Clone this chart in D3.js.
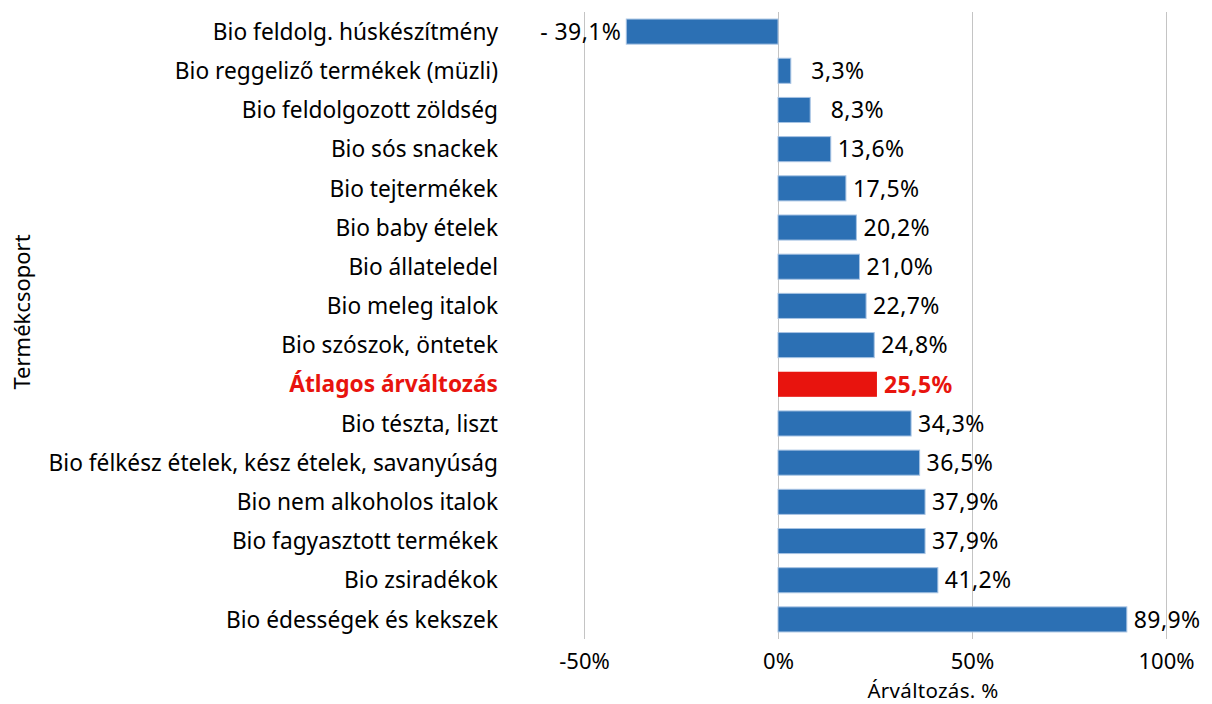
<!DOCTYPE html>
<html>
<head>
<meta charset="utf-8">
<script src="https://cdn.jsdelivr.net/npm/d3@7"></script>
<style>
  html, body { margin: 0; padding: 0; background: #ffffff; }
  svg { display: block; }
</style>
</head>
<body>
<svg id="chart" width="1212" height="704"></svg>
<script>
const categories = [
  "Bio feldolg. húskészítmény",
  "Bio reggeliző termékek (müzli)",
  "Bio feldolgozott zöldség",
  "Bio sós snackek",
  "Bio tejtermékek",
  "Bio baby ételek",
  "Bio állateledel",
  "Bio meleg italok",
  "Bio szószok, öntetek",
  "Átlagos árváltozás",
  "Bio tészta, liszt",
  "Bio félkész ételek, kész ételek, savanyúság",
  "Bio nem alkoholos italok",
  "Bio fagyasztott termékek",
  "Bio zsiradékok",
  "Bio édességek és kekszek"
];
const values = [-39.1, 3.3, 8.3, 13.6, 17.5, 20.2, 21.0, 22.7, 24.8, 25.5, 34.3, 36.5, 37.9, 37.9, 41.2, 89.9];
const highlight = ["Átlagos árváltozás"];
const xTicks = [-50, 0, 50, 100];
const xTickLabels = ["-50%", "0%", "50%", "100%"];
const xTitle = "Árváltozás. %";
const yTitle = "Termékcsoport";

const BLUE = "#2c70b4";
const RED = "#e8140e";
const FONT = "'Noto Sans', 'Open Sans', sans-serif";

const svg = d3.select("#chart");
const x = d3.scaleLinear().domain([-50, 100]).range([584, 1166]);
const y = d3.scaleBand().domain(categories).range([12, 639]).paddingInner(0.36).paddingOuter(0.18);

// gridlines
const xAxis = d3.axisBottom(x).tickValues(xTicks).tickSize(-(639 - 12)).tickFormat((d, i) => xTickLabels[i]);
const gx = svg.append("g").attr("transform", "translate(0,639)").call(xAxis);
gx.select(".domain").remove();
gx.selectAll(".tick line").attr("stroke", "#c4c4c4").attr("stroke-width", 1);
gx.selectAll(".tick text")
  .attr("y", 30)
  .attr("dy", "0")
  .attr("fill", "#000")
  .style("font-family", FONT)
  .style("font-size", "22px");

// bars
const data = categories.map((c, i) => ({ c, v: values[i] }));
svg.append("g").selectAll("rect").data(data).join("rect")
  .attr("x", d => x(Math.min(0, d.v)))
  .attr("width", d => Math.abs(x(d.v) - x(0)))
  .attr("y", d => y(d.c))
  .attr("height", y.bandwidth())
  .attr("fill", d => highlight.includes(d.c) ? RED : BLUE)
  .attr("stroke", d => highlight.includes(d.c) ? "none" : "#a7c3e3")
  .attr("stroke-width", 1);

// value labels
const fmt = v => {
  const a = Math.abs(v).toFixed(1).replace(".", ",");
  const padded = Math.abs(v) < 10 ? "\u2007" + a : a;
  return (v < 0 ? "- " : "") + padded + "%";
};
svg.append("g").selectAll("text").data(data).join("text")
  .attr("x", d => d.v < 0 ? x(d.v) - 5 : x(d.v) + 7)
  .attr("y", d => y(d.c) + y.bandwidth() / 2)
  .attr("dy", "0.36em")
  .attr("text-anchor", d => d.v < 0 ? "end" : "start")
  .attr("fill", d => highlight.includes(d.c) ? RED : "#000")
  .attr("font-weight", d => highlight.includes(d.c) ? "bold" : "normal")
  .style("font-family", FONT)
  .style("font-size", "23px")
  .style("letter-spacing", "0.4px")
  .text(d => fmt(d.v));

// category labels
svg.append("g").selectAll("text").data(categories).join("text")
  .attr("x", 498)
  .attr("y", d => y(d) + y.bandwidth() / 2)
  .attr("dy", "0.36em")
  .attr("text-anchor", "end")
  .attr("fill", d => highlight.includes(d) ? RED : "#000")
  .attr("font-weight", d => highlight.includes(d) ? "bold" : "normal")
  .style("font-family", FONT)
  .style("font-size", "22.7px")
  .text(d => d);

// axis titles
svg.append("text")
  .attr("x", 933).attr("y", 697.5)
  .attr("text-anchor", "middle")
  .style("font-family", FONT).style("font-size", "20.5px")
  .style("letter-spacing", "0.3px")
  .text(xTitle);

svg.append("text")
  .attr("transform", "translate(30,312) rotate(-90)")
  .attr("text-anchor", "middle")
  .style("font-family", FONT).style("font-size", "22px")
  .text(yTitle);
</script>
</body>
</html>
